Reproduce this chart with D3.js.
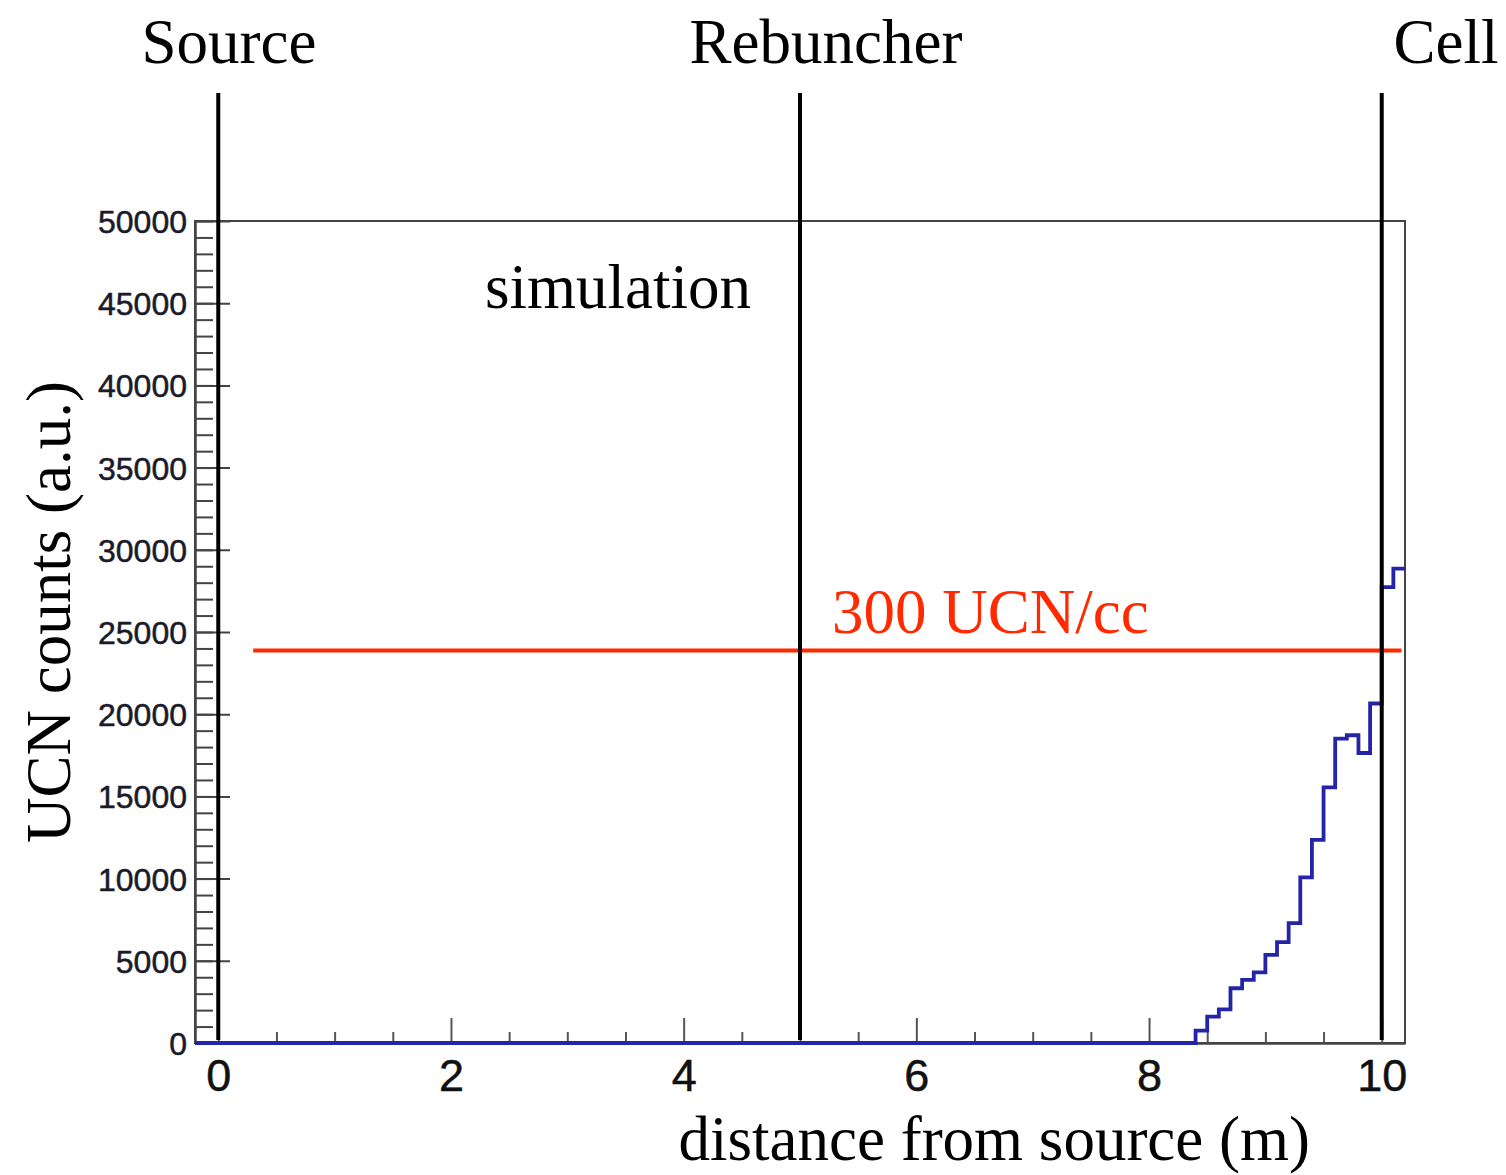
<!DOCTYPE html>
<html>
<head>
<meta charset="utf-8">
<script src="https://cdn.jsdelivr.net/npm/d3@7/dist/d3.min.js"></script>
<style>
  html, body { margin: 0; padding: 0; background: #fff; }
  svg { display: block; }
</style>
</head>
<body>
<svg id="chart" width="1506" height="1175"></svg>
<script>
// Histogram of UCN counts along the guide, bins of 0.1 m.
// Bins below binStart are empty.
const binStart = 8.4;
const binWidth = 0.1;
const counts = [750, 1600, 2050, 3330, 3840, 4300, 5360, 6130, 7290,
                10070, 12360, 15550, 18510, 18720, 17640, 20650, 27730, 28850];

// Vertical markers along the beamline
const markerNames = ["Source", "Rebuncher", "Cell"];
const markerPositions = [0, 5, 10];

// 300 UCN/cc reference level
const refLevel = 23870;
const refStart = 0.3;
const refEnd = 10.17;

const xDomain = [-0.2, 10.2];
const yDomain = [0, 50000];
const xMajorTicks = [0, 2, 4, 6, 8, 10];
const xMinorTicks = [0.5, 1, 1.5, 2.5, 3, 3.5, 4.5, 5, 5.5, 6.5, 7, 7.5, 8.5, 9, 9.5];
const yMajorTicks = [0, 5000, 10000, 15000, 20000, 25000, 30000, 35000, 40000, 45000, 50000];
const yMinorTicks = d3.range(0, 50001, 1000);

const svg = d3.select("#chart");
const plotLeft = 195, plotRight = 1405, plotTop = 221, plotBottom = 1043;

const x = d3.scaleLinear().domain(xDomain).range([plotLeft, plotRight]);
const y = d3.scaleLinear().domain(yDomain).range([plotBottom, plotTop]);

const tickFont = "'Liberation Sans', Arial, Helvetica, sans-serif";
const serif = "'Liberation Serif', 'Times New Roman', Times, serif";

// Frame
svg.append("rect")
  .attr("x", plotLeft).attr("y", plotTop)
  .attr("width", plotRight - plotLeft).attr("height", plotBottom - plotTop)
  .attr("fill", "none").attr("stroke", "#444").attr("stroke-width", 2);

// Y axis: minor and major ticks pointing into the plot
const yMinor = svg.append("g").attr("transform", `translate(${plotLeft},0)`)
  .call(d3.axisLeft(y).tickValues(yMinorTicks).tickSizeInner(-18).tickSizeOuter(0).tickFormat(""));
const yMajor = svg.append("g").attr("transform", `translate(${plotLeft},0)`)
  .call(d3.axisLeft(y).tickValues(yMajorTicks).tickSizeInner(-35).tickSizeOuter(0).tickPadding(8)
        .tickFormat(d3.format("d")));
[yMinor, yMajor].forEach(g => {
  g.select(".domain").attr("stroke", "#444").attr("stroke-width", 2);
  g.selectAll(".tick line").attr("stroke", "#444").attr("stroke-width", 2);
});
yMajor.selectAll(".tick text")
  .attr("font-family", tickFont).attr("font-size", 32).attr("fill", "#1a1a2a")
  .attr("stroke", "#1a1a2a").attr("stroke-width", 0.5)
  .attr("dy", "0.36em");

// X axis: minor and major ticks pointing up
const xMinor = svg.append("g").attr("transform", `translate(0,${plotBottom})`)
  .call(d3.axisBottom(x).tickValues(xMinorTicks).tickSizeInner(-11).tickSizeOuter(0).tickFormat(""));
const xMajor = svg.append("g").attr("transform", `translate(0,${plotBottom})`)
  .call(d3.axisBottom(x).tickValues(xMajorTicks).tickSizeInner(-25).tickSizeOuter(0).tickPadding(16)
        .tickFormat(d3.format("d")));
[xMinor, xMajor].forEach(g => {
  g.select(".domain").attr("stroke", "#444").attr("stroke-width", 2);
  g.selectAll(".tick line").attr("stroke", "#555").attr("stroke-width", 2);
});
xMajor.selectAll(".tick text")
  .attr("font-family", tickFont).attr("font-size", 45).attr("fill", "#111")
  .attr("stroke", "#111").attr("stroke-width", 0.5);

// Histogram outline (step line)
const steps = [[xDomain[0], 0], [binStart, 0]];
counts.forEach((c, i) => {
  const x0 = binStart + i * binWidth;
  steps.push([x0, c], [x0 + binWidth, c]);
});
svg.append("path")
  .datum(steps)
  .attr("fill", "none")
  .attr("stroke", "#2424a8")
  .attr("stroke-width", 3.8)
  .attr("d", d3.line().x(d => x(d[0])).y(d => y(d[1])));

// Reference level line
svg.append("line")
  .attr("x1", x(refStart)).attr("x2", x(refEnd))
  .attr("y1", y(refLevel)).attr("y2", y(refLevel))
  .attr("stroke", "#ff2a00").attr("stroke-width", 4);

svg.append("text")
  .attr("x", 832).attr("y", 633)
  .attr("font-family", serif).attr("font-size", 63).attr("fill", "#ff2a00")
  .text("300 UCN/cc");

// Beamline markers
svg.selectAll("line.marker")
  .data(markerPositions)
  .join("line")
  .attr("class", "marker")
  .attr("x1", d => x(d)).attr("x2", d => x(d))
  .attr("y1", 93).attr("y2", plotBottom - 3)
  .attr("stroke", "#000").attr("stroke-width", 4);

const markerLabelX = [229, 826, 1446];
svg.selectAll("text.marker")
  .data(markerNames)
  .join("text")
  .attr("class", "marker")
  .attr("x", (d, i) => markerLabelX[i]).attr("y", 63)
  .attr("text-anchor", "middle")
  .attr("font-family", serif).attr("font-size", 63).attr("fill", "#000")
  .text(d => d);

// Annotation
svg.append("text")
  .attr("x", 485).attr("y", 308)
  .attr("font-family", serif).attr("font-size", 63).attr("fill", "#000")
  .text("simulation");

// Axis titles
svg.append("text")
  .attr("x", 1310).attr("y", 1160)
  .attr("text-anchor", "end")
  .attr("font-family", serif).attr("font-size", 63).attr("fill", "#000")
  .text("distance from source (m)");

svg.append("text")
  .attr("transform", "translate(70,612) rotate(-90)")
  .attr("text-anchor", "middle")
  .attr("font-family", serif).attr("font-size", 63).attr("fill", "#000")
  .text("UCN counts (a.u.)");
</script>
</body>
</html>
